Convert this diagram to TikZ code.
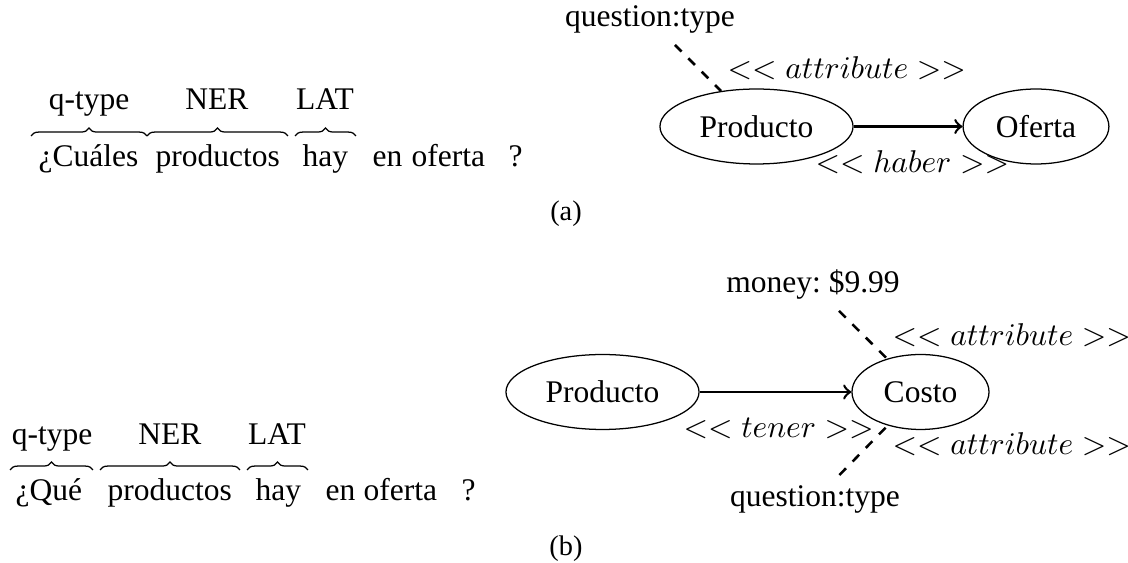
\documentclass[tikz,border=0pt]{standalone}
\usepackage{fontspec}
\setmainfont{Liberation Serif}
\usetikzlibrary{shapes.geometric,decorations.pathreplacing}

\begin{document}
\begin{tikzpicture}[x=0.31746pt,y=-0.31746pt,
  word/.style={anchor=base west,inner sep=0pt},
  tag/.style={anchor=base,inner sep=0pt},
  rel/.style={anchor=base west,inner sep=0pt},
  lbl/.style={anchor=base},
  entity/.style={draw,ellipse,inner sep=0pt,minimum height=23.8pt},
  link/.style={thick,->},
  attr/.style={thick,dashed},
  brc/.style={decorate,decoration={brace,amplitude=2.5pt}},
  capt/.style={anchor=base,font=\small}]
\useasboundingbox (0,0) rectangle (1128,563);

% ---------- (a) question with its braces ----------
\node[word] (w1) at (38,167) {¿Cuáles};
\node[word] (w2) at (155,167) {productos};
\node[word] (w3) at (302,167) {hay};
\node[word] (w4) at (372,167) {en};
\node[word] (w5) at (411,167) {oferta};
\node[word] (w6) at (508,167) {?};
\draw[brc] (31,136) -- (147,136);
\draw[brc] (147,136) -- (288,136);
\draw[brc] (295,136) -- (356,136);
\node[tag] (t1) at (89,110) {q-type};
\node[tag] (t2) at (217,110) {NER};
\node[tag] (t3) at (325,110) {LAT};

% ---------- (a) graph ----------
\node[entity,minimum width=61.3pt] (prodA) at (756.5,126.5) {Producto};
\node[entity,minimum width=46.3pt] (ofer) at (1036,126.5) {Oferta};
\draw[link] (prodA) -- (ofer);
\node[lbl] (qtA) at (650,27) {question:type};
\draw[attr] (qtA) -- (prodA);
\node[rel] (attrA) at (727,79) {$<< attribute >>$};
\node[rel] (haber) at (815,173) {$<< haber >>$};

\node[capt] (capa) at (566,221) {(a)};

% ---------- (b) question with its braces ----------
\node[word] (v1) at (15,501) {¿Qué};
\node[word] (v2) at (107,501) {productos};
\node[word] (v3) at (255,501) {hay};
\node[word] (v4) at (325,501) {en};
\node[word] (v5) at (363,501) {oferta};
\node[word] (v6) at (461,501) {?};
\draw[brc] (10,470) -- (93,470);
\draw[brc] (100,470) -- (240,470);
\draw[brc] (247,470) -- (308,470);
\node[tag] (s1) at (52,445) {q-type};
\node[tag] (s2) at (170,445) {NER};
\node[tag] (s3) at (277,445) {LAT};

% ---------- (b) graph ----------
\node[entity,minimum width=61.3pt] (prodB) at (602.5,392) {Producto};
\node[entity,minimum width=43.5pt] (costo) at (920.5,392) {Costo};
\draw[link] (prodB) -- (costo);
\node[lbl] (money) at (813,293) {money:\ \$9.99};
\node[lbl] (qtB) at (815,507) {question:type};
\draw[attr] (money) -- (costo);
\draw[attr] (qtB) -- (costo);
\node[rel] (attrB1) at (892,346) {$<< attribute >>$};
\node[rel] (attrB2) at (892,455) {$<< attribute >>$};
\node[rel] (tener) at (683,438) {$<< tener >>$};

\node[capt] (capb) at (566,556) {(b)};
\end{tikzpicture}
\end{document}
